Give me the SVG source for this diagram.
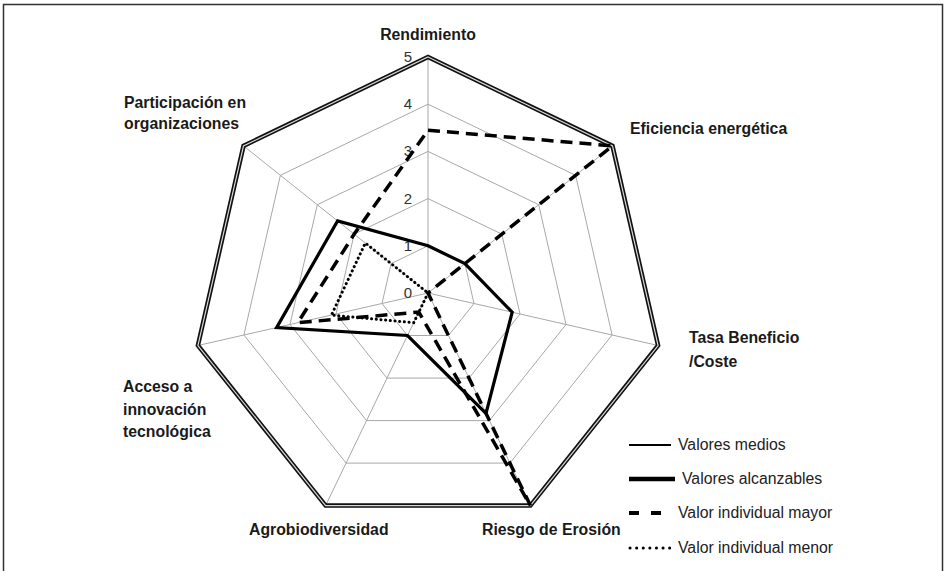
<svg xmlns="http://www.w3.org/2000/svg" width="946" height="571" viewBox="0 0 946 571">
<style>
.grid{fill:none;stroke:#a8a8a8;stroke-width:1}
.lbl{font-family:"Liberation Sans",Arial,sans-serif;font-weight:bold;font-size:15.8px;fill:#1a1a1a}
.num{font-family:"Liberation Sans",Arial,sans-serif;font-size:15px;fill:#333;text-anchor:end}
.leg{font-family:"Liberation Sans",Arial,sans-serif;font-size:15.8px;fill:#222}
.s{fill:none;stroke:#000;stroke-linejoin:miter}
</style>
<rect x="0" y="0" width="946" height="571" fill="#fff"/>
<rect x="3.5" y="4.5" width="939" height="600" fill="none" stroke="#333" stroke-width="1.5"/>
<g id="grid">
<polygon class="grid" points="428,245.8 464.9,263.6 474,303.5 448.5,335.5 407.5,335.5 382,303.5 391.1,263.6"/>
<polygon class="grid" points="428,198.6 501.8,234.1 520,314 469,378.1 387,378.1 336,314 354.2,234.1"/>
<polygon class="grid" points="428,151.4 538.7,204.7 566,324.5 489.4,420.6 366.6,420.6 290,324.5 317.3,204.7"/>
<polygon class="grid" points="428,104.2 575.6,175.3 612.1,335 509.9,463.1 346.1,463.1 243.9,335 280.4,175.3"/>
<path class="grid" d="M428,293L428,57M428,293L612.5,145.9M428,293L658.1,345.5M428,293L530.4,505.6M428,293L325.6,505.6M428,293L197.9,345.5M428,293L243.5,145.9"/>
<polygon points="428,57 612.5,145.9 658.1,345.5 530.4,505.6 325.6,505.6 197.9,345.5 243.5,145.9" fill="none" stroke="#111" stroke-width="4.5"/>
<polygon points="428,57 612.5,145.9 658.1,345.5 530.4,505.6 325.6,505.6 197.9,345.5 243.5,145.9" fill="none" stroke="#d8d8d8" stroke-width="1.2"/>
</g>
<g id="scale">
<text class="num" x="412" y="298">0</text>
<text class="num" x="412" y="251">1</text>
<text class="num" x="412" y="204">2</text>
<text class="num" x="412" y="156">3</text>
<text class="num" x="412" y="109">4</text>
<text class="num" x="412" y="62">5</text>
</g>
<g id="series">
<polygon id="alcanzables" class="s" stroke-width="3.2" points="428,245.8 464.9,263.6 512.2,312.2 486,413.4 407.5,335.5 276.6,327.6 337.6,220.9"/>
<polygon id="mayor" class="s" stroke-width="3.5" stroke-dasharray="12 7" points="428,130.2 612.5,145.9 428,293 530.4,505.6 418.8,312.1 297.8,322.7 354.2,234.1"/>
<polygon id="menor" class="s" stroke-width="3" stroke-dasharray="0.1 4.6" stroke-linecap="round" points="428,293 413.7,322.7 331.4,315.1 365.3,243"/>
</g>
<g id="labels">
<text class="lbl" x="428" y="40" text-anchor="middle">Rendimiento</text>
<text class="lbl" x="630" y="134">Eficiencia energética</text>
<text class="lbl" x="689" y="343">Tasa Beneficio</text>
<text class="lbl" x="689" y="367">/Coste</text>
<text class="lbl" x="482" y="535">Riesgo de Erosión</text>
<text class="lbl" x="249" y="535">Agrobiodiversidad</text>
<text class="lbl" x="123" y="392">Acceso a</text>
<text class="lbl" x="123" y="415">innovación</text>
<text class="lbl" x="123" y="437">tecnológica</text>
<text class="lbl" x="124" y="108">Participación en</text>
<text class="lbl" x="124" y="129">organizaciones</text>
</g>
<g id="legend">
<line x1="629" y1="445" x2="671" y2="445" stroke="#000" stroke-width="2"/>
<text class="leg" x="678" y="450">Valores medios</text>
<line x1="629" y1="479" x2="675" y2="479" stroke="#000" stroke-width="4.5"/>
<text class="leg" x="682" y="484">Valores alcanzables</text>
<line x1="629" y1="513" x2="671" y2="513" stroke="#000" stroke-width="4" stroke-dasharray="10 12"/>
<text class="leg" x="678" y="518">Valor individual mayor</text>
<line x1="630" y1="548" x2="671" y2="548" stroke="#000" stroke-width="3" stroke-dasharray="0.1 6.5" stroke-linecap="round"/>
<text class="leg" x="678" y="553">Valor individual menor</text>
</g>
</svg>
